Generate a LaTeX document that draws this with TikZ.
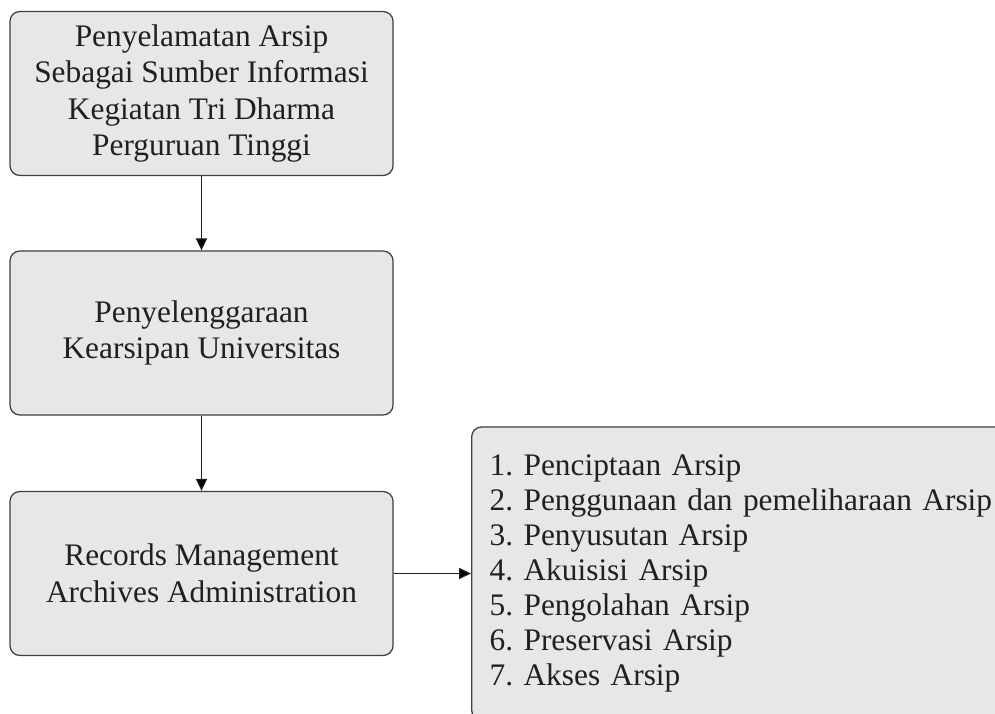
\documentclass[tikz,border=0pt]{standalone}
\usepackage{fontspec}
\setmainfont{Liberation Serif}
\usetikzlibrary{arrows.meta}
\definecolor{boxfill}{HTML}{E6E7E8}
\definecolor{boxline}{HTML}{404041}
\definecolor{inkgray}{HTML}{231F20}
\frenchspacing
\begin{document}
\begin{tikzpicture}[x=0.025cm,y=0.025cm]
		\tikzset{block/.style = {shape=rectangle,rounded corners=0.25cm,draw=boxline,fill=boxfill,line width=0.9pt,
			text=inkgray,align=center,minimum width=9.575cm,minimum height=4.1cm,inner sep=0pt,
			font=\fontsize{22.3pt}{26pt}\selectfont}}
		\tikzset{flow/.style = {-{Triangle[length=0.3cm,width=0.28cm]},draw=inkgray,line width=0.85pt}}
		\useasboundingbox (0,0) rectangle (995,714);
		\clip (0,0) rectangle (995,714);
		\node[block] (arsip) at (201.5,620.5) {Penyelamatan Arsip\\Sebagai Sumber Informasi\\Kegiatan Tri Dharma\\Perguruan Tinggi};
		\node[block] (kearsipan) at (201.5,381) {Penyelenggaraan\\Kearsipan Universitas};
		\node[block] (records) at (201.5,140.5) {Records Management\\Archives Administration};
		\node[block,align=left,text width=14cm,minimum height=7.325cm,inner xsep=0.45cm,
			font=\fontsize{22.3pt}{25pt}\selectfont,anchor=west] (tahapan) at (471,140.5)
			{1. Penciptaan Arsip\\2. Penggunaan dan pemeliharaan Arsip\\3. Penyusutan Arsip\\4. Akuisisi Arsip\\5. Pengolahan Arsip\\6. Preservasi Arsip\\7. Akses Arsip};
		\path[flow] (arsip) edge (kearsipan);
		\path[flow] (kearsipan) edge (records);
		\path[flow] (records) edge (tahapan);
	\end{tikzpicture}
\end{document}
